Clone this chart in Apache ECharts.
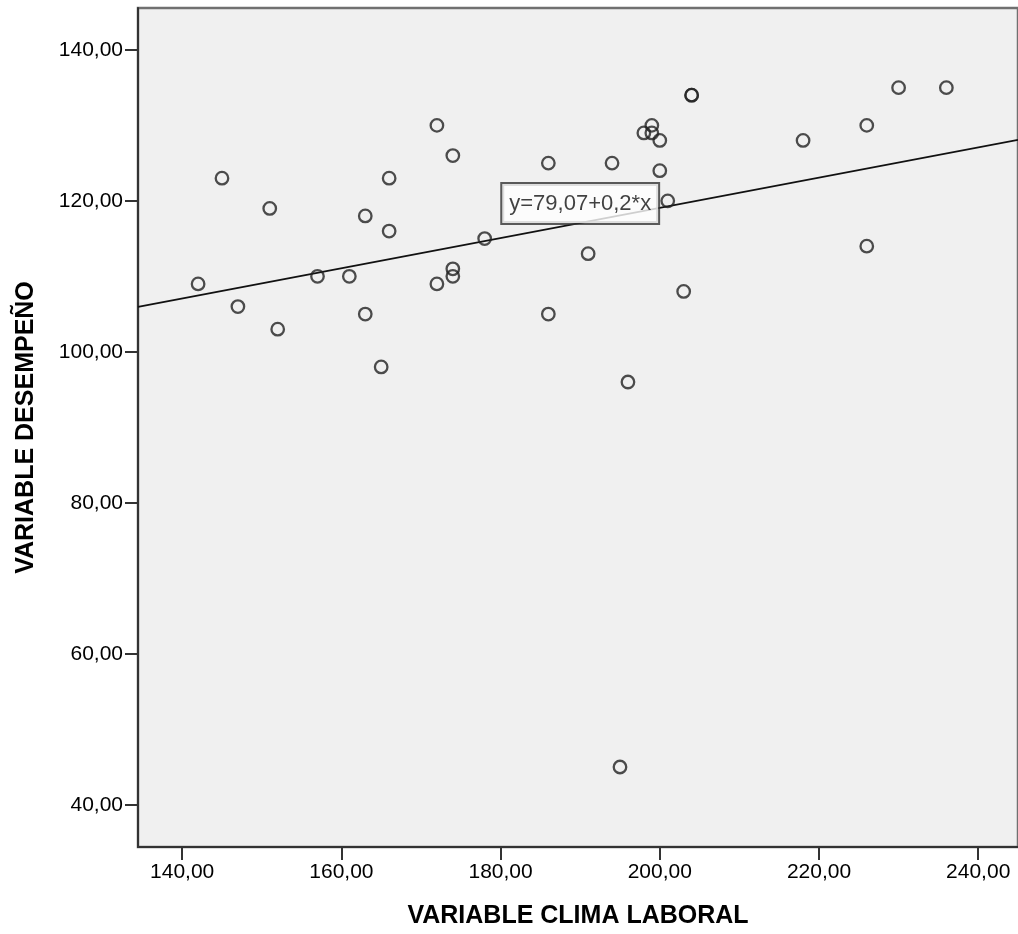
<!DOCTYPE html>
<html>
<head>
<meta charset="utf-8">
<script src="https://cdn.jsdelivr.net/npm/echarts@6/dist/echarts.min.js"></script>
<style>
  html, body { margin: 0; padding: 0; background: #ffffff; }
  #chart { width: 1018px; height: 934px; }
</style>
</head>
<body>
<div id="chart"></div>
<script>
// Clima laboral (x) vs. desempeño (y), one row per respondent
const climaLaboral = [142, 145, 147, 151, 152, 157, 161, 163, 163, 165, 166, 166,
  172, 172, 174, 174, 174, 178, 186, 186, 191, 194, 195, 196, 198, 199, 199,
  200, 200, 201, 203, 204, 204, 218, 226, 226, 230, 236];
const desempeno = [109, 123, 106, 119, 103, 110, 110, 118, 105, 98, 123, 116,
  130, 109, 126, 111, 110, 115, 125, 105, 113, 125, 45, 96, 129, 130, 129,
  128, 124, 120, 108, 134, 134, 128, 130, 114, 135, 135];

// Fitted line: y = b0 + b1 * x
const regB0 = 79.07;
const regB1 = 0.2;
const regLabel = 'y=79,07+0,2*x';
const regLabelAt = [190.0, 119.65];

// Axis ranges and tick values
const xRange = [134.45, 245];
const yRange = [34.4, 145.55];
const xTicks = [140, 160, 180, 200, 220, 240];
const yTicks = [40, 60, 80, 100, 120, 140];

const xTitle = 'VARIABLE CLIMA LABORAL';
const yTitle = 'VARIABLE DESEMPEÑO';

const points = climaLaboral.map((x, i) => [x, desempeno[i]]);
const fitLine = xRange.map(x => [x, regB0 + regB1 * x]);
const fmt = v => Number(v).toFixed(2).replace('.', ',');

const FONT = '"Liberation Sans", Arial, sans-serif';

const chart = echarts.init(document.getElementById('chart'), null, { renderer: 'canvas' });
chart.setOption({
  animation: false,
  backgroundColor: '#ffffff',
  grid: {
    left: 138, top: 8, width: 885, height: 841,
    show: true,
    backgroundColor: '#f0f0f0',
    borderColor: '#707070',
    borderWidth: 2.5
  },
  xAxis: {
    type: 'value',
    min: xRange[0], max: xRange[1],
    name: xTitle,
    nameLocation: 'middle',
    nameGap: 57,
    nameTextStyle: { fontFamily: FONT, fontSize: 25, fontWeight: 'bold', color: '#000' },
    axisLine: { show: true, onZero: false, lineStyle: { color: '#333', width: 2 } },
    axisTick: { show: true, length: 13, customValues: xTicks, lineStyle: { color: '#333', width: 2 } },
    axisLabel: { customValues: xTicks, formatter: fmt, margin: 15,
      fontFamily: FONT, fontSize: 21, color: '#000' },
    splitLine: { show: false }
  },
  yAxis: {
    type: 'value',
    min: yRange[0], max: yRange[1],
    name: yTitle,
    nameLocation: 'middle',
    nameGap: 99,
    nameRotate: 90,
    nameTextStyle: { fontFamily: FONT, fontSize: 25, fontWeight: 'bold', color: '#000' },
    axisLine: { show: true, onZero: false, lineStyle: { color: '#333', width: 2 } },
    axisTick: { show: true, length: 13, customValues: yTicks, lineStyle: { color: '#333', width: 2 } },
    axisLabel: { customValues: yTicks, formatter: fmt, margin: 15,
      fontFamily: FONT, fontSize: 21, color: '#000' },
    splitLine: { show: false }
  },
  series: [
    {
      type: 'line',
      data: fitLine,
      symbol: 'none',
      lineStyle: { color: '#111', width: 1.7 },
      z: 2,
      silent: true
    },
    {
      type: 'scatter',
      data: points,
      symbol: 'circle',
      symbolSize: 12.5,
      itemStyle: { color: 'rgba(0,0,0,0)', borderColor: '#222', borderWidth: 2.3 },
      z: 3
    },
    {
      type: 'scatter',
      data: [regLabelAt],
      symbolSize: 0,
      z: 5,
      label: {
        show: true,
        position: 'inside',
        formatter: regLabel,
        fontFamily: FONT,
        fontSize: 22,
        color: '#111',
        backgroundColor: '#ffffff',
        borderColor: '#333',
        borderWidth: 2,
        padding: [6, 7, 5, 7],
        lineHeight: 28
      }
    }
  ]
});
</script>
</body>
</html>
